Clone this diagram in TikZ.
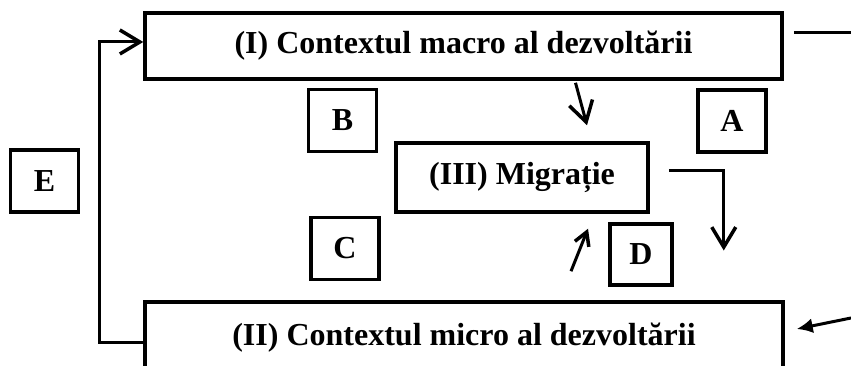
\documentclass[tikz,border=0pt]{standalone}
\usepackage{fontspec}
\setmainfont{Liberation Serif}
\usetikzlibrary{arrows.meta}
\usetikzlibrary{positioning}

\begin{document}
\begin{tikzpicture}[x=1pt,y=-1pt]

	\tikzstyle{cbox} = [rectangle,draw,line width=3.5pt,fill=white,font=\fontsize{32}{38}\selectfont\bfseries,inner sep=0pt]
	\tikzstyle{lbox} = [cbox,minimum width=68pt,minimum height=62pt]
	\tikzstyle{cedge} = [line width=3pt,-{Straight Barb[length=20pt,width=24pt,line width=3.5pt]}]
	\tikzstyle{sedge} = [line width=3pt,-{Straight Barb[length=13pt,width=15pt,line width=3.5pt]}]
	\tikzstyle{fedge} = [line width=3pt,-{Latex[length=16pt,width=15pt]}]

	\clip (0,0) rectangle (851,366);

	\node[cbox,minimum width=637pt,minimum height=66pt] (macro) at (463.5,46) {\raisebox{-4pt}{(I) Contextul macro al dezvoltării}};
	\node[cbox,minimum width=638pt,minimum height=72pt] (micro) at (464,338) {\raisebox{5pt}{(II) Contextul micro al dezvoltării}};
	\node[cbox,minimum width=252pt,minimum height=69pt] (migr) at (522,177.5) {(III) Migrație};

	\node[lbox] (A) at (732,121) {A};
	\node[lbox] (B) at (342.5,120.5) {B};
	\node[lbox] (C) at (345,248.5) {C};
	\node[lbox,minimum width=62pt,minimum height=61pt] (D) at (641,254.5) {D};
	\node[lbox] (E) at (44.5,181) {E};

	\coordinate (outR) at (851,33);
	\coordinate (inR) at (851,318);

	\draw[cedge] ([yshift=-4pt]micro.west) -- ++(-44,0) |- ([yshift=4pt]macro.west);
	\draw[line width=3pt] ([xshift=10pt,yshift=13pt]macro.east) -- (outR);
	\draw[fedge] (inR) -- ([xshift=12pt,yshift=9pt]micro.east);
	\draw[cedge] ([xshift=112pt,yshift=-2pt]macro.south) -- ([xshift=65pt,yshift=16pt]migr.north);
	\draw[cedge] ([xshift=19pt,yshift=7pt]migr.east) -- ++(55,0) -- ++(0,80);
	\draw[sedge] ([xshift=107pt,yshift=29pt]micro.north) -- ([xshift=66pt,yshift=-15pt]migr.south);

\end{tikzpicture}
\end{document}
